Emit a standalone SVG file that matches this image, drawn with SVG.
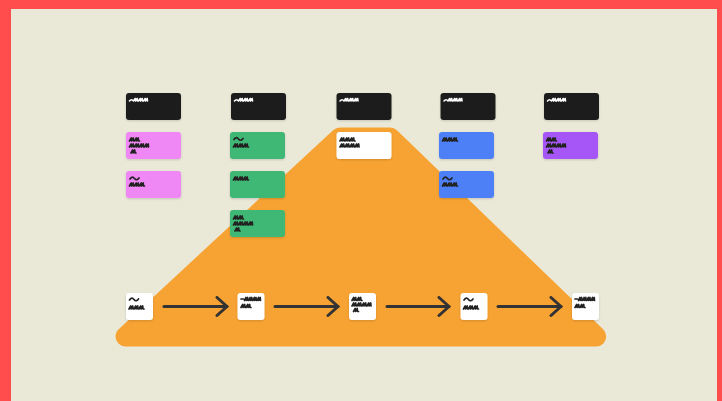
<svg xmlns="http://www.w3.org/2000/svg" width="722" height="401" viewBox="0 0 722 401">
  <style>
    .hd { fill: #1E1E1E; }
    .pk { fill: #EF88F4; }
    .gr { fill: #41B874; }
    .wh { fill: #FFFFFF; }
    .bl { fill: #4D80F6; }
    .pu { fill: #A657F6; }
    .card { filter: url(#sh); }
    .sq-w { fill: none; stroke: #FFFFFF; stroke-width: 1.6; stroke-linejoin: round; stroke-linecap: round; }
    .sq-d { fill: none; stroke: #222222; stroke-width: 1.7; stroke-linejoin: round; stroke-linecap: round; }
    .conn { fill: none; stroke: #333333; stroke-width: 3; stroke-linecap: round; }
  </style>
  <defs>
    <filter id="sh" x="-10%" y="-15%" width="120%" height="150%">
      <feDropShadow dx="0" dy="1" stdDeviation="1" flood-color="#000000" flood-opacity="0.15"/>
    </filter>
    <marker id="ah" markerUnits="userSpaceOnUse" markerWidth="16" markerHeight="24" refX="12" refY="11" orient="auto">
      <path d="M2,2 L12,11 L2,20" fill="none" stroke="#333333" stroke-width="3" stroke-linecap="round" stroke-linejoin="round"/>
    </marker>
    <path id="h" d="M0,2.5 q2,-2.5 4,0 l1.7,-2.5 l0.3,2.5 l1.7,-2.5 l0.3,2.5 l1,0 l1.7,-2.5 l0.3,2.5 l1.7,-2.5 l0.3,2.5 l1,0 l1.7,-2.5 l0.3,2.5 l1.7,-2.5 l0.3,2.5"/>
    <path id="t" d="M0,2.5 c1.5,-2.5 3,-2.5 4.5,-0.5 s3,1.5 4.5,-0.5"/>
    <path id="z1" d="M0,3.5 l1.7,-3 l0.3,3 l1.7,-3 l0.3,3 l1,0"/>
    <path id="z2" d="M0,3.5 l1.7,-3 l0.3,3 l1.7,-3 l0.3,3 l1,0 l1.7,-3 l0.3,3 l1.7,-3 l0.3,3 l1,0"/>
    <path id="z3" d="M0,3.5 l1.7,-3 l0.3,3 l1.7,-3 l0.3,3 l1,0 l1.7,-3 l0.3,3 l1.7,-3 l0.3,3 l1,0 l1.7,-3 l0.3,3 l1.7,-3 l0.3,3 l1,0"/>
    <path id="z4" d="M0,3.5 l1.7,-3 l0.3,3 l1.7,-3 l0.3,3 l1,0 l1.7,-3 l0.3,3 l1.7,-3 l0.3,3 l1,0 l1.7,-3 l0.3,3 l1.7,-3 l0.3,3 l1,0 l1.7,-3 l0.3,3 l1.7,-3 l0.3,3"/>
    <path id="d4" d="M0,2 h2.5 M3.5,3.5 l1.4,-3 l0.3,3 l1.4,-3 l0.3,3 l0.8,0 l1.4,-3 l0.3,3 l1.4,-3 l0.3,3 l0.8,0 l1.4,-3 l0.3,3 l1.4,-3 l0.3,3 l0.8,0 l1.4,-3 l0.3,3 l1.4,-3 l0.3,3"/>
  </defs>

  <!-- frame -->
  <rect x="0" y="0" width="722" height="401" fill="#FF4D4D"/>
  <rect x="11" y="9" width="706" height="392" fill="#EAE9D8"/>

  <!-- orange triangle -->
  <g id="triangle">
    <polygon points="339.9,137.5 390,137.5 596.2,336.5 125.5,336.5" fill="#F7A333" stroke="#F7A333" stroke-width="20" stroke-linejoin="round"/>
  </g>

  <!-- column 1 -->
  <g id="col1-header" class="card">
    <rect class="hd" x="126" y="93" width="55" height="27" rx="3"/>
    <use href="#h" class="sq-w" x="129.5" y="98.5"/>
  </g>
  <g id="col1-card1" class="card">
    <rect class="pk" x="126" y="132" width="55" height="27" rx="3"/>
    <use href="#z2" class="sq-d" x="129.5" y="137.5"/>
    <use href="#z4" class="sq-d" x="129.5" y="143.5"/>
    <use href="#z1" class="sq-d" x="131" y="149.5"/>
  </g>
  <g id="col1-card2" class="card">
    <rect class="pk" x="126" y="171" width="55" height="27" rx="3"/>
    <use href="#t" class="sq-d" x="130" y="176.5"/>
    <use href="#z3" class="sq-d" x="129.5" y="182.5"/>
  </g>

  <!-- column 2 -->
  <g id="col2-header" class="card">
    <rect class="hd" x="231" y="93" width="55" height="27" rx="3"/>
    <use href="#h" class="sq-w" x="234.5" y="98.5"/>
  </g>
  <g id="col2-card1" class="card">
    <rect class="gr" x="230" y="132" width="55" height="27" rx="3"/>
    <use href="#t" class="sq-d" x="234" y="137"/>
    <use href="#z3" class="sq-d" x="233.5" y="143.5"/>
  </g>
  <g id="col2-card2" class="card">
    <rect class="gr" x="230" y="171" width="55" height="27" rx="3"/>
    <use href="#z3" class="sq-d" x="233.5" y="176.5"/>
  </g>
  <g id="col2-card3" class="card">
    <rect class="gr" x="230" y="210" width="55" height="27" rx="3"/>
    <use href="#z2" class="sq-d" x="233.5" y="215.5"/>
    <use href="#z4" class="sq-d" x="233.5" y="221.5"/>
    <use href="#z1" class="sq-d" x="235" y="227.5"/>
  </g>

  <!-- column 3 -->
  <g id="col3-header" class="card">
    <rect class="hd" x="336.5" y="93" width="55" height="27" rx="3"/>
    <use href="#h" class="sq-w" x="340" y="98.5"/>
  </g>
  <g id="col3-card1" class="card">
    <rect class="wh" x="336.5" y="132" width="55" height="27" rx="3"/>
    <use href="#z3" class="sq-d" x="340" y="137.5"/>
    <use href="#z4" class="sq-d" x="340" y="143.5"/>
  </g>

  <!-- column 4 -->
  <g id="col4-header" class="card">
    <rect class="hd" x="440.5" y="93" width="55" height="27" rx="3"/>
    <use href="#h" class="sq-w" x="444" y="98.5"/>
  </g>
  <g id="col4-card1" class="card">
    <rect class="bl" x="439" y="132" width="55" height="27" rx="3"/>
    <use href="#z3" class="sq-d" x="442.5" y="137.5"/>
  </g>
  <g id="col4-card2" class="card">
    <rect class="bl" x="439" y="171" width="55" height="27" rx="3"/>
    <use href="#t" class="sq-d" x="443" y="176.5"/>
    <use href="#z3" class="sq-d" x="442.5" y="182.5"/>
  </g>

  <!-- column 5 -->
  <g id="col5-header" class="card">
    <rect class="hd" x="544" y="93" width="55" height="27" rx="3"/>
    <use href="#h" class="sq-w" x="547.5" y="98.5"/>
  </g>
  <g id="col5-card1" class="card">
    <rect class="pu" x="543" y="132" width="55" height="27" rx="3"/>
    <use href="#z2" class="sq-d" x="546.5" y="137.5"/>
    <use href="#z4" class="sq-d" x="546.5" y="143.5"/>
    <use href="#z1" class="sq-d" x="548" y="149.5"/>
  </g>

  <!-- flow squares -->
  <g id="step1" class="card">
    <rect class="wh" x="126" y="293" width="27" height="27" rx="3"/>
    <use href="#t" class="sq-d" x="129.5" y="297.5"/>
    <use href="#z3" class="sq-d" x="129" y="305.5"/>
  </g>
  <g id="step2" class="card">
    <rect class="wh" x="237.5" y="293" width="27" height="27" rx="3"/>
    <use href="#d4" class="sq-d" x="241" y="297"/>
    <use href="#z2" class="sq-d" x="241" y="304"/>
  </g>
  <g id="step3" class="card">
    <rect class="wh" x="349" y="293" width="27" height="27" rx="3"/>
    <use href="#z2" class="sq-d" x="352" y="297"/>
    <use href="#z4" class="sq-d" x="352" y="302.5"/>
    <use href="#z1" class="sq-d" x="353.5" y="308"/>
  </g>
  <g id="step4" class="card">
    <rect class="wh" x="460.5" y="293" width="27" height="27" rx="3"/>
    <use href="#t" class="sq-d" x="464" y="297.5"/>
    <use href="#z3" class="sq-d" x="463.5" y="305.5"/>
  </g>
  <g id="step5" class="card">
    <rect class="wh" x="572" y="293" width="27" height="27" rx="3"/>
    <use href="#d4" class="sq-d" x="575" y="297"/>
    <use href="#z2" class="sq-d" x="575" y="304"/>
  </g>

  <!-- connectors -->
  <g id="connectors">
    <line class="conn" x1="164" y1="306.5" x2="227" y2="306.5" marker-end="url(#ah)"/>
    <line class="conn" x1="275" y1="306.5" x2="338" y2="306.5" marker-end="url(#ah)"/>
    <line class="conn" x1="387" y1="306.5" x2="449" y2="306.5" marker-end="url(#ah)"/>
    <line class="conn" x1="498" y1="306.5" x2="561" y2="306.5" marker-end="url(#ah)"/>
  </g>
</svg>
